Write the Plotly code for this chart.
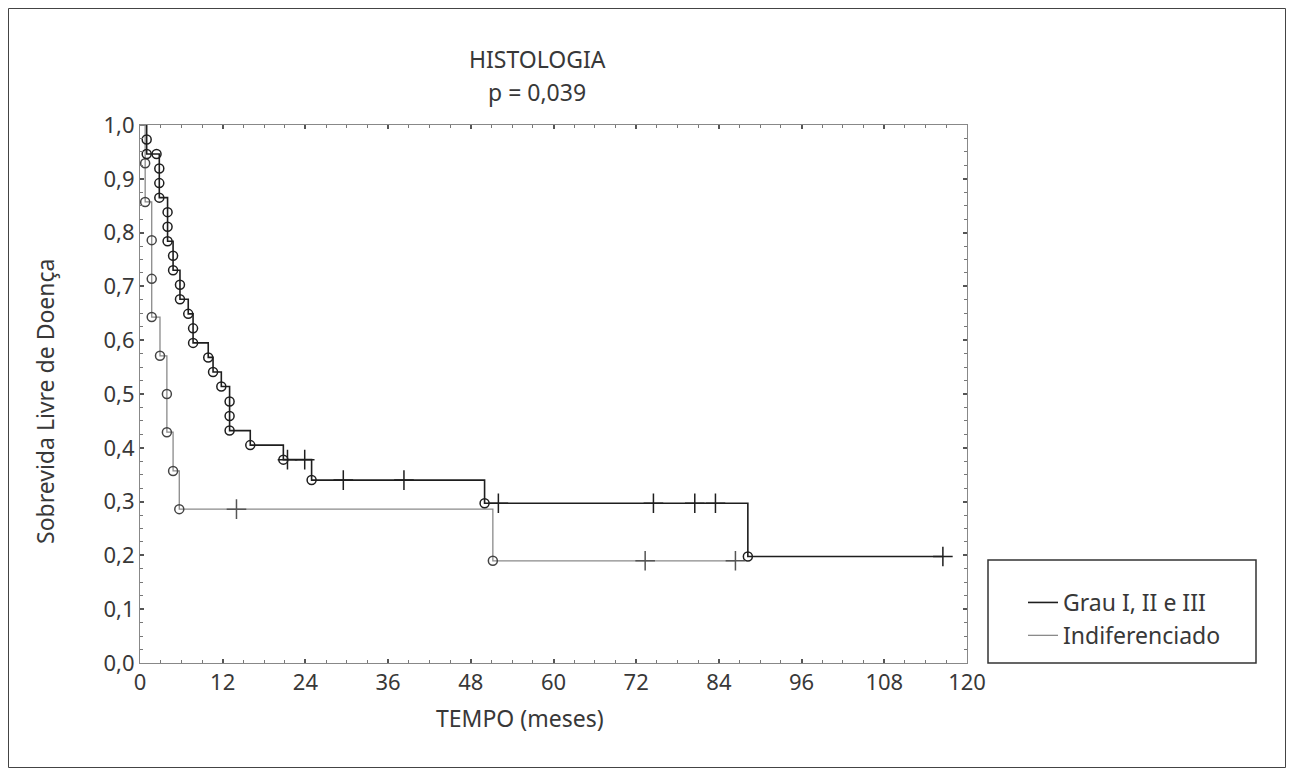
import plotly.graph_objects as go

# ---------------- data ----------------
# Grau I, II e III : step function (time in months, survival after step)
grau_t = [0, 0.97, 2.8, 4.0, 4.8, 5.8, 7.0, 7.7, 9.9, 10.6, 11.8, 13.0, 16.0, 20.8, 24.9, 50.0, 88.2]
grau_s = [1.0, 0.946, 0.865, 0.784, 0.730, 0.676, 0.649, 0.595, 0.568, 0.541, 0.514, 0.432, 0.405, 0.378, 0.340, 0.297, 0.198]
grau_end = 116.5
# complete observations (circles)
grau_ev_t = [0.97, 0.97, 2.4, 2.8, 2.8, 2.8, 4.0, 4.0, 4.0, 4.8, 4.8, 5.8, 5.8, 7.0, 7.7, 7.7,
             9.9, 10.6, 11.8, 13.0, 13.0, 13.0, 16.0, 20.8, 24.9, 50.0, 88.2]
grau_ev_s = [0.973, 0.946, 0.946, 0.919, 0.892, 0.865, 0.838, 0.811, 0.784, 0.757, 0.730, 0.703, 0.676,
             0.649, 0.622, 0.595, 0.568, 0.541, 0.514, 0.486, 0.459, 0.432, 0.405, 0.378, 0.340, 0.297, 0.198]
# censored observations (+)
grau_cens_t = [21.4, 23.9, 29.5, 38.3, 52.0, 74.5, 80.5, 83.5, 116.5]

# Indiferenciado
ind_t = [0, 0.75, 1.7, 2.9, 3.9, 4.8, 5.7, 51.2]
ind_s = [1.0, 0.857, 0.643, 0.571, 0.429, 0.357, 0.286, 0.190]
ind_end = 86.4
ind_ev_t = [0.75, 0.75, 1.7, 1.7, 1.7, 2.9, 3.9, 3.9, 4.8, 5.7, 51.2]
ind_ev_s = [0.929, 0.857, 0.786, 0.714, 0.643, 0.571, 0.500, 0.429, 0.357, 0.286, 0.190]
ind_cens_t = [14.0, 73.3, 86.4]

x_ticks = [0, 12, 24, 36, 48, 60, 72, 84, 96, 108, 120]
y_ticks = [0.0, 0.1, 0.2, 0.3, 0.4, 0.5, 0.6, 0.7, 0.8, 0.9, 1.0]
y_ticktext = ["0,0", "0,1", "0,2", "0,3", "0,4", "0,5", "0,6", "0,7", "0,8", "0,9", "1,0"]

series_names = ["Grau I, II e III", "Indiferenciado"]
title_lines = ["HISTOLOGIA", "p = 0,039"]
x_title = "TEMPO (meses)"
y_title = "Sobrevida Livre de Doença"

# ---------------- helpers ----------------
def surv_at(t, ts, ss):
    val = ss[0]
    for ti, si in zip(ts, ss):
        if t >= ti:
            val = si
    return val

FONT = "Noto Sans"
TXT = "#383838"
C_GRAU = "#1e1e1e"
C_IND = "#8a8a8a"

fig = go.Figure()

# step lines
fig.add_trace(go.Scatter(x=grau_t + [grau_end], y=grau_s + [grau_s[-1]], mode="lines",
                         line=dict(color=C_GRAU, width=1.6, shape="hv"),
                         name=series_names[0], showlegend=True))
fig.add_trace(go.Scatter(x=ind_t + [ind_end], y=ind_s + [ind_s[-1]], mode="lines",
                         line=dict(color=C_IND, width=1.3, shape="hv"),
                         name=series_names[1], showlegend=True))

# event circles
fig.add_trace(go.Scatter(x=ind_ev_t, y=ind_ev_s, mode="markers", showlegend=False,
                         marker=dict(symbol="circle-open", size=9, color="#444444", line=dict(width=1.5))))
fig.add_trace(go.Scatter(x=grau_ev_t, y=grau_ev_s, mode="markers", showlegend=False,
                         marker=dict(symbol="circle-open", size=9, color=C_GRAU, line=dict(width=1.5))))

# censored marks
fig.add_trace(go.Scatter(x=ind_cens_t, y=[surv_at(t, ind_t, ind_s) for t in ind_cens_t],
                         mode="markers", showlegend=False,
                         marker=dict(symbol="cross-thin", size=14, color="#555555",
                                     line=dict(width=1.5, color="#555555"))))
fig.add_trace(go.Scatter(x=grau_cens_t, y=[surv_at(t, grau_t, grau_s) for t in grau_cens_t],
                         mode="markers", showlegend=False,
                         marker=dict(symbol="cross-thin", size=14, color=C_GRAU,
                                     line=dict(width=1.5, color=C_GRAU))))

# page body has an 8px margin: build the figure in screen coordinates minus 8
OFF = 8
W, H = 1294 - 2 * OFF, 776 - 2 * OFF
# plot frame on screen: x 140..967, y 125..663
L, T = 140 - OFF, 125 - OFF
R = W - (967 - OFF)
B = H - (663 - OFF)
pw, ph = W - L - R, H - T - B

def px(x):  # screen x -> paper
    return (x - OFF - L) / pw

def py(y):  # screen y -> paper
    return (H - B - (y - OFF)) / ph

fig.update_layout(
    width=W, height=H,
    margin=dict(l=L, r=R, t=T, b=B),
    paper_bgcolor="white", plot_bgcolor="white",
    font=dict(family=FONT, size=22, color=TXT),
    showlegend=True,
    legend=dict(x=px(1023), y=py(581), xanchor="left", yanchor="top",
                bgcolor="rgba(0,0,0,0)", borderwidth=0,
                font=dict(family=FONT, size=23, color=TXT),
                tracegroupgap=0),
    xaxis=dict(range=[0, 120], tickvals=x_ticks, ticks="inside", ticklen=4, tickwidth=1.5,
               tickcolor="#555555", showline=True, linecolor="#888888", linewidth=1,
               mirror="ticks", showgrid=False, zeroline=False,
               minor=dict(dtick=3, ticks="inside", ticklen=3, tickcolor="#777777", tickwidth=1.2),
               tickfont=dict(family=FONT, size=22, color=TXT)),
    yaxis=dict(range=[0, 1], tickvals=y_ticks, ticktext=y_ticktext, ticks="inside", ticklen=4,
               tickwidth=1.5, tickcolor="#555555", showline=True, linecolor="#888888", linewidth=1,
               mirror="ticks", showgrid=False, zeroline=False,
               minor=dict(dtick=0.025, ticks="inside", ticklen=3, tickcolor="#777777", tickwidth=1.2),
               tickfont=dict(family=FONT, size=22, color=TXT)),
)

fig.add_annotation(text=title_lines[0], xref="paper", yref="paper", x=px(537), y=py(59),
                   showarrow=False, xanchor="center", yanchor="middle",
                   font=dict(family=FONT, size=23, color=TXT))
fig.add_annotation(text=title_lines[1], xref="paper", yref="paper", x=px(537), y=py(92),
                   showarrow=False, xanchor="center", yanchor="middle",
                   font=dict(family=FONT, size=23, color=TXT))
fig.add_annotation(text=x_title, xref="paper", yref="paper", x=px(520), y=py(718),
                   showarrow=False, xanchor="center", yanchor="middle",
                   font=dict(family=FONT, size=23, color=TXT))
fig.add_annotation(text=y_title, xref="paper", yref="paper", x=px(45), y=py(402),
                   showarrow=False, xanchor="center", yanchor="middle", textangle=-90,
                   font=dict(family=FONT, size=23, color=TXT))

# legend box and outer frame
fig.add_shape(type="rect", xref="paper", yref="paper", x0=px(988), x1=px(1256), y0=py(663), y1=py(560),
              line=dict(color="#333333", width=1.5))
fig.add_shape(type="rect", xref="paper", yref="paper", x0=px(8.5), x1=px(1285.5), y0=py(767.5), y1=py(8.5),
              line=dict(color="#444444", width=1))

fig.write_html("out.html")
